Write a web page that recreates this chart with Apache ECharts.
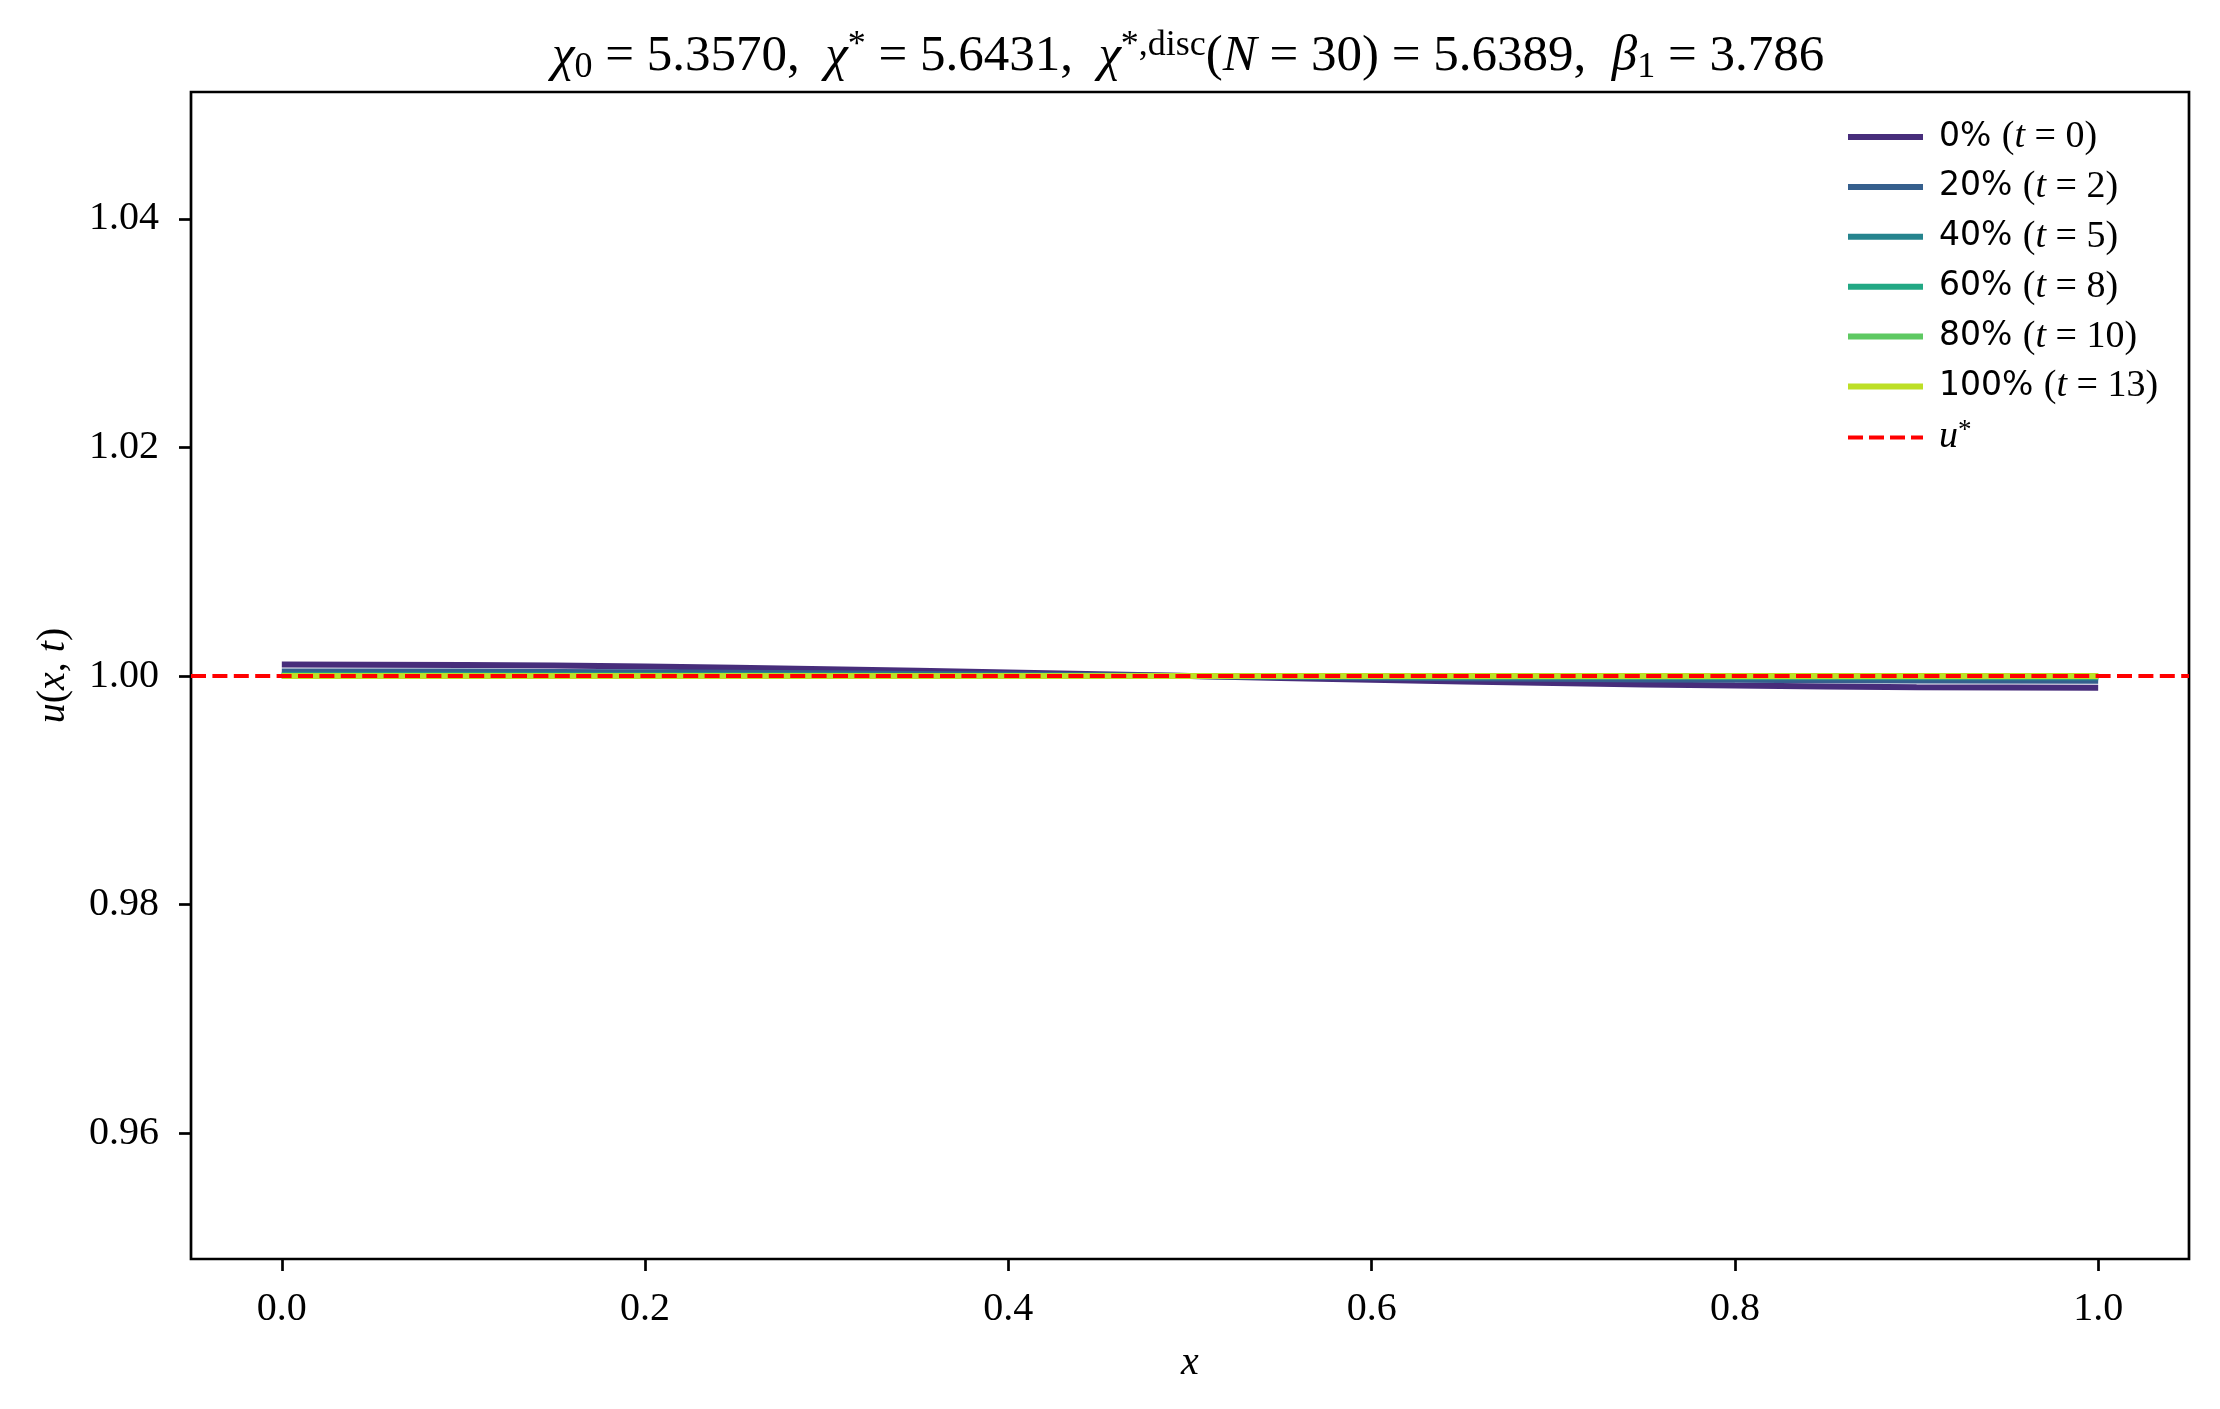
<!DOCTYPE html>
<html>
<head>
<meta charset="utf-8">
<script src="https://cdn.jsdelivr.net/npm/echarts@6/dist/echarts.min.js"></script>
<style>
html,body{margin:0;padding:0;background:#fff;}
#chart{width:2220px;height:1409px;}
</style>
</head>
<body>
<div id="chart"></div>
<script>
// ---- data ----
const xs = [0.0, 0.1, 0.2, 0.3, 0.4, 0.5, 0.6, 0.7, 0.8, 0.9, 1.0];
const u0   = [1.00102, 1.00097, 1.00083, 1.00060, 1.00032, 1.00000, 0.99968, 0.99940, 0.99917, 0.99903, 0.99898];
const u20  = [1.00041, 1.00039, 1.00033, 1.00024, 1.00013, 1.00000, 0.99987, 0.99976, 0.99967, 0.99961, 0.99959];
const u40  = [1.00012, 1.00011, 1.00010, 1.00007, 1.00004, 1.00000, 0.99996, 0.99993, 0.99990, 0.99989, 0.99988];
const u60  = [1.00004, 1.00004, 1.00003, 1.00002, 1.00001, 1.00000, 0.99999, 0.99998, 0.99997, 0.99996, 0.99996];
const u80  = [1.00001, 1.00001, 1.00001, 1.00001, 1.00000, 1.00000, 1.00000, 0.99999, 0.99999, 0.99999, 0.99999];
const u100 = [1.000003, 1.000003, 1.000002, 1.000002, 1.000001, 1.000000, 0.999999, 0.999998, 0.999998, 0.999997, 0.999997];
const uStar = 1.0;
const pctLabels = ['0%', '20%', '40%', '60%', '80%', '100%'];
const tLabels = ['0', '2', '5', '8', '10', '13'];
const xTicks = [0.0, 0.2, 0.4, 0.6, 0.8, 1.0];
const yTicks = [0.96, 0.98, 1.00, 1.02, 1.04];
const colors = ['#472d7b', '#355f8d', '#25848e', '#22a884', '#5ec962', '#bddf26'];
const seriesVals = [u0, u20, u40, u60, u80, u100];

const SERIF = 'Liberation Serif';
const chart = echarts.init(document.getElementById('chart'), null, {renderer: 'canvas'});

const series = seriesVals.map((vals, k) => ({
  name: pctLabels[k],
  type: 'line',
  data: xs.map((x, i) => [x, vals[i]]),
  showSymbol: false,
  symbol: 'none',
  smooth: true,
  color: colors[k],
  lineStyle: {width: 6, color: colors[k], cap: 'butt'},
  emphasis: {disabled: true}
}));
series.push({
  name: 'u*',
  type: 'line',
  data: [],
  color: '#ff0000',
  symbol: 'none',
  markLine: {
    silent: true,
    symbol: 'none',
    label: {show: false},
    lineStyle: {color: '#ff0000', type: [15, 6.4], width: 4},
    emphasis: {disabled: true},
    data: [{yAxis: uStar}]
  },
  z: 5
});

const legendData = pctLabels.map(n => ({name: n, icon: 'rect'}));
legendData.push({name: 'u*', icon: 'path://M0,0h15v4h-15z M21,0h15v4h-15z M42,0h15v4h-15z M63,0h12v4h-12z'});

const titleText =
  '{i|χ}{sub|0}{s| = 5.3570,  }{i|χ}{sup|*}{s| = 5.6431,  }{i|χ}{sup|*,disc}{s|(}{i|N}{s| = 30) = 5.6389,  }{i|β}{sub|1}{s| = 3.786}';

const option = {
  animation: false,
  backgroundColor: '#fff',
  title: {
    text: titleText,
    left: 552,
    top: 28,
    padding: 0,
    textStyle: {
      fontWeight: 'normal',
      rich: {
        s: {fontFamily: SERIF, fontWeight: 'normal', fontSize: 51, color: '#000', lineHeight: 58, verticalAlign: 'middle'},
        i: {fontFamily: SERIF, fontWeight: 'normal', fontStyle: 'italic', fontSize: 51, color: '#000', lineHeight: 58, verticalAlign: 'middle'},
        sub: {fontFamily: SERIF, fontWeight: 'normal', fontSize: 36, color: '#000', lineHeight: 36, verticalAlign: 'bottom'},
        sup: {fontFamily: SERIF, fontWeight: 'normal', fontSize: 36, color: '#000', lineHeight: 36, verticalAlign: 'top'}
      }
    }
  },
  legend: {
    orient: 'vertical',
    left: 1848,
    top: 118,
    padding: 0,
    itemWidth: 75,
    itemHeight: 6,
    itemGap: 11.9,
    selectedMode: false,
    data: legendData,
    formatter: function (name) {
      const k = pctLabels.indexOf(name);
      if (k < 0) return '{p2|}{i|u}{sup|*}';
      return '{p|' + name + ' }{s|(}{i|t}{s| = ' + tLabels[k] + ')}';
    },
    textStyle: {
      rich: {
        p: {fontFamily: 'DejaVu Sans', fontSize: 33, color: '#000', lineHeight: 40, padding: [0, 0, 0, 11]},
        p2: {fontFamily: 'DejaVu Sans', fontSize: 33, color: '#000', lineHeight: 40, padding: [0, 0, 0, 11]},
        s: {fontFamily: SERIF, fontSize: 38, color: '#000', lineHeight: 40},
        i: {fontFamily: SERIF, fontStyle: 'italic', fontSize: 38, color: '#000', lineHeight: 40},
        sup: {fontFamily: SERIF, fontSize: 27, color: '#000', lineHeight: 27, verticalAlign: 'top'}
      }
    }
  },
  grid: {
    left: 191, right: 31, top: 92, bottom: 150,
    show: true, borderColor: '#000', borderWidth: 2.7, backgroundColor: 'transparent',
    containLabel: false
  },
  xAxis: {
    type: 'value',
    min: -0.05,
    max: 1.05,
    name: 'x',
    nameLocation: 'middle',
    nameGap: 84,
    nameTextStyle: {fontFamily: SERIF, fontStyle: 'italic', fontSize: 40, color: '#000'},
    axisLine: {show: false, onZero: false},
    axisTick: {show: true, length: 12, lineStyle: {color: '#000', width: 2.7}, customValues: xTicks},
    axisLabel: {
      customValues: xTicks,
      formatter: v => v.toFixed(1),
      fontFamily: SERIF, fontSize: 40, color: '#000', margin: 30
    },
    splitLine: {show: false}
  },
  yAxis: {
    type: 'value',
    min: 0.9490,
    max: 1.0511,
    name: '{i|u}{s|(}{i|x}{s|, }{i|t}{s|)}',
    nameLocation: 'middle',
    nameGap: 118,
    nameRotate: 90,
    nameTextStyle: {
      rich: {
        s: {fontFamily: SERIF, fontSize: 40, color: '#000'},
        i: {fontFamily: SERIF, fontStyle: 'italic', fontSize: 40, color: '#000'}
      }
    },
    axisLine: {show: false, onZero: false},
    axisTick: {show: true, length: 12, lineStyle: {color: '#000', width: 2.7}, customValues: yTicks},
    axisLabel: {
      customValues: yTicks,
      formatter: v => v.toFixed(2),
      fontFamily: SERIF, fontSize: 40, color: '#000', margin: 32
    },
    splitLine: {show: false}
  },
  series: series
};
chart.setOption(option);
</script>
</body>
</html>
